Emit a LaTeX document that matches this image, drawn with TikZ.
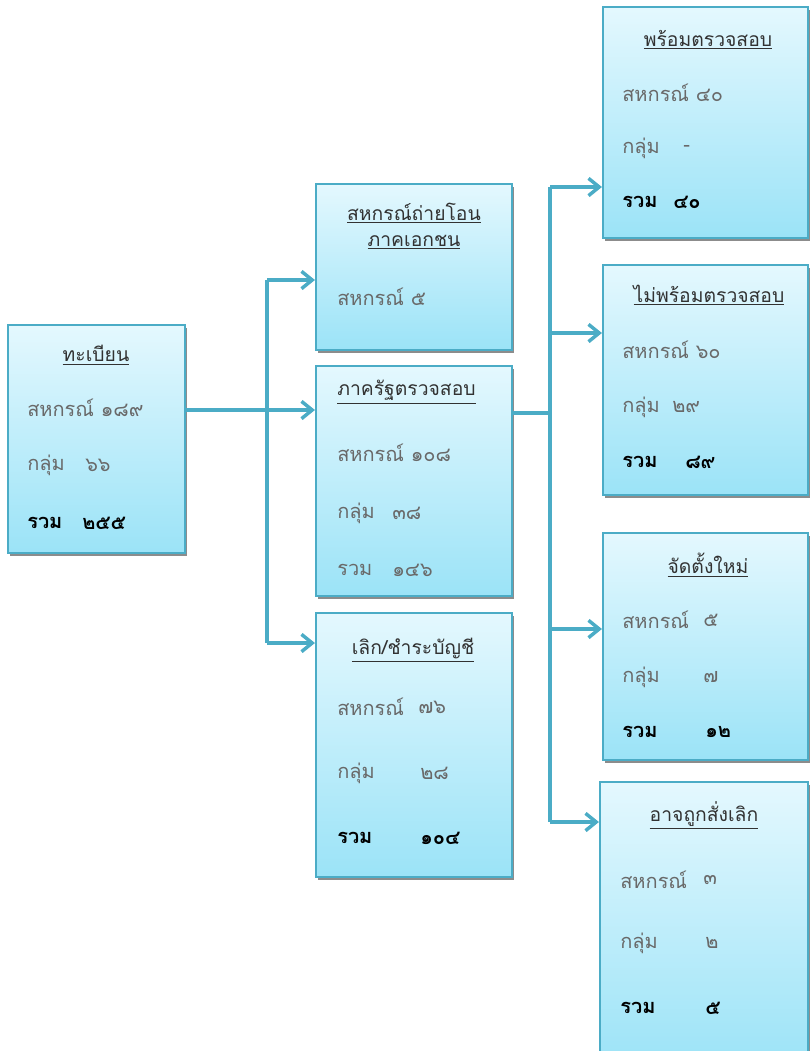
\documentclass[tikz,border=0pt]{standalone}
\usepackage{fontspec}
\newfontfamily\thaifont[Script=Thai]{Loma}
\usepackage{tikz}
\usetikzlibrary{arrows.meta}
\usetikzlibrary{shadows}
\usetikzlibrary{fit}

\definecolor{linkblue}{RGB}{75,172,198}
\definecolor{boxtop}{RGB}{228,248,254}
\definecolor{boxbot}{RGB}{155,227,247}
\definecolor{bodygray}{RGB}{105,105,105}
\definecolor{headgray}{RGB}{50,50,50}

\begin{document}
\begin{tikzpicture}[x=0.75pt,y=-0.75pt,
    box/.style={draw=linkblue, line width=1.6pt, top color=boxtop, bottom color=boxbot,
        inner sep=0pt, drop shadow={shadow xshift=1.5pt, shadow yshift=-2.5pt, fill=black!45, opacity=1}},
    head/.style={inner sep=0pt, text=headgray, font=\thaifont\fontsize{14.5}{18}\selectfont},
    body/.style={anchor=west, inner sep=0pt, text=bodygray, font=\thaifont\fontsize{15}{18}\selectfont},
    total/.style={anchor=west, inner sep=0pt, text=black, font=\thaifont\fontsize{15}{18}\selectfont\bfseries},
    link/.style={draw=linkblue, line width=2.6pt},
    arr/.style={link, -{Straight Barb[length=8pt, width=13pt, line width=2.6pt]}}]
    \clip (0,0) rectangle (810,1051);

    % first level
    \node[box, fit={(8,325) (185,553)}] (reg) {};
    \node[head] (reg-t) at (96,355) {\underline{ทะเบียน}};
    \node[body] (reg-c) at (27,408) {สหกรณ์ ๑๘๙};
    \node[body] (reg-g) at (27,465) {กลุ่ม};
    \node[body] (reg-gn) at (85,465) {๖๖};
    \node[total] (reg-s) at (27,523) {รวม};
    \node[total] (reg-sn) at (82,523) {๒๕๕};

    % second level
    \node[box, fit={(316,184) (512,350)}] (xfer) {};
    \node[head] (xfer-t1) at (414,213) {\underline{สหกรณ์ถ่ายโอน}};
    \node[head] (xfer-t2) at (414,242) {\underline{ภาคเอกชน}};
    \node[body] (xfer-c) at (337,297) {สหกรณ์ ๕};

    \node[box, fit={(316,366) (512,596)}] (gov) {};
    \node[head, anchor=west] (gov-t) at (337,392) {\underline{ภาครัฐตรวจสอบ}};
    \node[body] (gov-c) at (337,453) {สหกรณ์ ๑๐๘};
    \node[body] (gov-g) at (337,513) {กลุ่ม};
    \node[body] (gov-gn) at (392,513) {๓๘};
    \node[body] (gov-s) at (337,570) {รวม};
    \node[body] (gov-sn) at (392,570) {๑๔๖};

    \node[box, fit={(316,613) (512,877)}] (quit) {};
    \node[head] (quit-t) at (413,650) {\underline{เลิก/ชำระบัญชี}};
    \node[body] (quit-c) at (337,707) {สหกรณ์};
    \node[body] (quit-cn) at (418,707) {๗๖};
    \node[body] (quit-g) at (337,773) {กลุ่ม};
    \node[body] (quit-gn) at (420,773) {๒๘};
    \node[total] (quit-s) at (337,838) {รวม};
    \node[total] (quit-sn) at (420,838) {๑๐๔};

    % third level
    \node[box, fit={(603,7) (808,238)}] (ready) {};
    \node[head] (ready-t) at (708,40) {\underline{พร้อมตรวจสอบ}};
    \node[body] (ready-c) at (622,93) {สหกรณ์ ๔๐};
    \node[body] (ready-g) at (622,148) {กลุ่ม};
    \node[body] (ready-gn) at (683,148) {-};
    \node[total] (ready-s) at (622,202) {รวม};
    \node[total] (ready-sn) at (673,202) {๔๐};

    \node[box, fit={(603,265) (808,495)}] (notready) {};
    \node[head] (notready-t) at (709,295) {\underline{ไม่พร้อมตรวจสอบ}};
    \node[body] (notready-c) at (622,350) {สหกรณ์ ๖๐};
    \node[body] (notready-g) at (622,407) {กลุ่ม};
    \node[body] (notready-gn) at (672,407) {๒๙};
    \node[total] (notready-s) at (622,462) {รวม};
    \node[total] (notready-sn) at (685,462) {๘๙};

    \node[box, fit={(603,533) (808,760)}] (newco) {};
    \node[head] (newco-t) at (708,565) {\underline{จัดตั้งใหม่}};
    \node[body] (newco-c) at (622,620) {สหกรณ์};
    \node[body] (newco-cn) at (703,620) {๕};
    \node[body] (newco-g) at (622,677) {กลุ่ม};
    \node[body] (newco-gn) at (703,677) {๗};
    \node[total] (newco-s) at (622,732) {รวม};
    \node[total] (newco-sn) at (705,732) {๑๒};

    \node[box, fit={(600,782) (808,1070)}] (close) {};
    \node[head] (close-t) at (704,815) {\underline{อาจถูกสั่งเลิก}};
    \node[body] (close-c) at (620,880) {สหกรณ์};
    \node[body] (close-cn) at (703,880) {๓};
    \node[body] (close-g) at (620,943) {กลุ่ม};
    \node[body] (close-gn) at (705,943) {๒};
    \node[total] (close-s) at (620,1008) {รวม};
    \node[total] (close-sn) at (705,1008) {๕};

    % connectors
    \coordinate (s1) at (267,410);
    \coordinate (s1up) at (267,280);
    \coordinate (s1dn) at (267,643);
    \draw[link] (reg.east |- s1) -- (s1);
    \draw[link] (s1up) -- (s1dn);
    \draw[arr] (s1) -- (s1 -| gov.west);
    \draw[arr] (s1up) -- (s1up -| xfer.west);
    \draw[arr] (s1dn) -- (s1dn -| quit.west);

    \coordinate (s2) at (550,413);
    \coordinate (s2a) at (550,187);
    \coordinate (s2b) at (550,333);
    \coordinate (s2c) at (550,629);
    \coordinate (s2d) at (550,822);
    \draw[link] (gov.east |- s2) -- (s2);
    \draw[link] (s2a) -- (s2d);
    \draw[arr] (s2a) -- (s2a -| ready.west);
    \draw[arr] (s2b) -- (s2b -| notready.west);
    \draw[arr] (s2c) -- (s2c -| newco.west);
    \draw[arr] (s2d) -- (s2d -| close.west);
\end{tikzpicture}
\end{document}
